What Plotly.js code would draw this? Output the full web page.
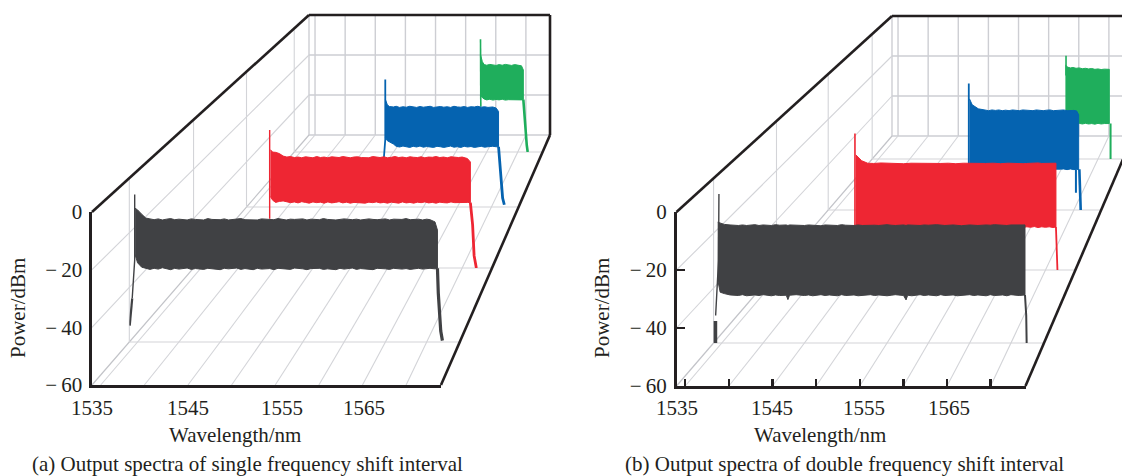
<!DOCTYPE html>
<html><head><meta charset="utf-8">
<script src="https://cdn.plot.ly/plotly-3.0.1.min.js"></script>
<style>html,body{margin:0;padding:0;background:#fff;overflow:hidden}</style>
</head><body><div id="chart" style="width:1122px;height:476px"></div>
<script>
// ---- values: wavelength (nm), power (dBm) ----
const powerTicks = [0,-20,-40,-60];
const powerLabels = ['0','\u2212\u200920','\u2212\u200940','\u2212\u200960'];
const wavelengthTicks = [1535,1540,1545,1550,1555,1560,1565,1570];
const wavelengthLabels = [1535,1545,1555,1565];

// (a) black
const aBlackWl   = [1534.7,1535,1535.5,1536,1536.5,1537,1537.5,1538,1538.5,1539,1539.5,1540,1541,1541.5,1542,1543,1543.5,1544,1545,1545.5,1546,1547,1547.5,1548,1549,1549.5,1550,1551,1551.5,1552,1553,1553.5,1554,1555,1555.5,1556,1557,1557.5,1558,1559,1559.5,1560,1561,1561.5,1562,1563,1563.5,1564,1565,1565.5,1566,1567,1567.5,1568,1569,1569.5,1570,1570.4,1571,1571.3];
const aBlackTop  = [-11,-11.6,-13.2,-14.6,-14.9,-15.2,-14.9,-15.3,-15,-14.8,-15.2,-15,-15.3,-14.9,-15.1,-15.3,-14.8,-15.1,-15.2,-14.9,-15.3,-15,-14.8,-15.2,-15.1,-15.3,-14.9,-15,-15.2,-14.8,-15.3,-15,-15.1,-14.9,-15.3,-15,-15.2,-14.8,-15.1,-15.3,-15,-14.9,-15.2,-15,-15.3,-14.9,-15.1,-15.2,-14.9,-15.3,-15,-15.1,-14.8,-15.2,-15,-15.3,-15,-15.2,-16,-19];
const aBlackLow  = [-28,-31,-32.6,-33,-33.4,-33,-33.3,-32.8,-33.2,-33.5,-33,-33.3,-32.9,-33.4,-33.1,-33.4,-33,-33.3,-33.5,-33,-33.2,-32.9,-33.4,-33.1,-33.5,-33,-33.3,-33.1,-33.5,-33,-33.3,-33.4,-32.9,-33.2,-33.5,-33.1,-33,-33.4,-33.2,-33.5,-33,-33.3,-32.9,-33.4,-33.1,-33.3,-33.5,-33,-33.2,-33.4,-33,-33.3,-33.1,-33.4,-33,-33.3,-33.2,-33,-33.2,-33];
const aBlackSpikeWl = [1534.65,1534.65,1534.35];
const aBlackSpikeP  = [-6,-30,-44];
const aBlackStubWl = [1534.35,1534.1,1534.05];
const aBlackStubP  = [-44,-53,-54];
const aBlackTailWl = [1571.3,1571.4,1571.7,1571.9];
const aBlackTailP  = [-33,-42,-56,-59.5];
// (a) red
const aRedWl   = [1544.3,1544.6,1545,1545.5,1546,1546.5,1547,1547.5,1548,1548.5,1549,1549.5,1550,1550.5,1551,1551.5,1552,1552.5,1553,1553.5,1554,1554.5,1555,1555.5,1556,1556.5,1557,1557.5,1558,1558.5,1559,1559.5,1560,1560.5,1561,1561.5,1562,1562.5,1563,1563.5,1564,1564.5,1565,1565.5,1566,1566.5,1567,1567.5,1568,1568.5,1569,1569.5,1570,1570.7,1571.1];
const aRedTop  = [-12,-13,-13.1,-13.6,-14.6,-15,-14.8,-15.2,-15,-15.3,-14.9,-15.1,-15.3,-14.8,-15.2,-15,-15.3,-14.9,-15,-15.2,-14.8,-15.1,-15.3,-15,-14.9,-15.2,-15.1,-15.3,-14.8,-15,-15.2,-14.9,-15.3,-15.1,-14.8,-15.2,-15,-15.3,-14.9,-15.1,-15.2,-14.9,-15.3,-15,-15.1,-14.8,-15.2,-15,-15.3,-14.9,-15.1,-15.2,-15,-15.6,-17];
const aRedLow  = [-31,-32.5,-33.4,-33,-32.8,-33.1,-33.5,-33.2,-33.6,-33.1,-33.4,-33.7,-33.2,-33.5,-33.3,-33.7,-33.2,-33.6,-33.4,-33.1,-33.6,-33.3,-33.7,-33.4,-33.2,-33.6,-33.7,-33.3,-33.5,-33.2,-33.6,-33.4,-33.7,-33.3,-33.5,-33.7,-33.2,-33.6,-33.4,-33.7,-33.3,-33.5,-33.2,-33.6,-33.4,-33.7,-33.3,-33.5,-33.6,-33.2,-33.5,-33.7,-33.4,-33.4,-33.5];
const aRedSpikeWl = [1544.2,1544.2];
const aRedSpikeP  = [-4,-40];
const aRedTailWl = [1571.1,1571.4,1571.6,1571.9];
const aRedTailP  = [-33.5,-42.5,-55,-60];
// (a) blue
const aBlueWl   = [1554.4,1554.7,1555,1555.6,1556,1556.5,1557,1557.5,1558,1558.5,1559,1559.5,1560,1560.5,1561,1561.5,1562,1562.5,1563,1563.5,1564,1564.5,1565,1565.5,1566,1566.5,1567,1567.5,1568,1568.5,1569,1569.5,1570.2,1570.7,1571.05];
const aBlueTop  = [-12,-14.5,-15.3,-15.5,-15.2,-15.7,-15.4,-15.6,-15.2,-15.5,-15.7,-15.3,-15.6,-15.4,-15.2,-15.7,-15.5,-15.3,-15.6,-15.4,-15.7,-15.2,-15.5,-15.6,-15.3,-15.7,-15.4,-15.5,-15.2,-15.6,-15.4,-15.7,-15.5,-16,-17.5];
const aBlueLow  = [-29,-30.5,-30.8,-32,-33,-33.3,-32.9,-33.2,-33.5,-33,-33.3,-32.9,-33.4,-33.1,-33.3,-33.5,-33,-33.2,-33.5,-33.1,-32.9,-33.4,-33.2,-33.5,-33,-33.3,-33.1,-33.5,-33.2,-33,-33.4,-33.2,-33,-33.2,-33.2];
const aBlueSpikeWl = [1554.4,1554.4,1554.2];
const aBlueSpikeP  = [-3.3,-30,-38];
const aBlueTailWl = [1571.05,1571.35,1571.65,1571.9];
const aBlueTailP  = [-33.2,-43.5,-56,-59];
// (a) green
const aGreenWl   = [1564,1564.3,1564.6,1565,1565.5,1566,1566.5,1567,1567.5,1568,1568.5,1569,1569.5,1570,1570.6,1570.9];
const aGreenTop  = [-12.5,-16,-17.4,-17.7,-17.3,-17.6,-17.8,-17.4,-17.7,-17.3,-17.6,-17.8,-17.4,-17.6,-18,-20];
const aGreenLow  = [-32.5,-33.5,-34.2,-34.6,-34.3,-34.7,-34.4,-34.6,-34.3,-34.7,-34.5,-34.3,-34.7,-34.5,-34.6,-34.5];
const aGreenSpikeWl = [1564,1564.05];
const aGreenSpikeP  = [-5,-38];
const aGreenTailWl = [1570.9,1571.1,1571.45,1571.6];
const aGreenTailP  = [-34.5,-44.3,-56.6,-60];

// (b) black
const bBlackWl   = [1534.5,1534.8,1535.3,1536,1537,1537.5,1538,1539,1539.5,1540,1541,1541.5,1542,1542.8,1543,1543.2,1544,1545,1545.5,1546,1547,1547.5,1548,1549,1549.5,1550,1551,1551.5,1552,1553,1553.5,1554,1555,1555.5,1556,1557,1557.3,1557.5,1558,1559,1559.5,1560,1561,1561.5,1562,1563,1563.5,1564,1565,1565.5,1566,1567,1567.5,1568,1569,1569.5,1570,1571,1571.7];
const bBlackTop  = [-16,-16.4,-16.8,-17,-17.2,-17,-17.2,-16.9,-17.2,-17,-17.2,-16.9,-17.1,-17,-17.2,-17,-17.1,-17.2,-17,-17.1,-17.3,-17,-17.1,-17.2,-16.9,-17.1,-17.2,-17,-17.2,-17,-17.1,-17.2,-16.9,-17.1,-17.2,-17,-17.2,-17,-17.1,-17.2,-17,-17.1,-16.9,-17.1,-17.2,-17,-17.1,-17.3,-17,-17.1,-17.2,-17,-17.1,-16.9,-17.1,-17.2,-17,-17.1,-17];
const bBlackLow  = [-37,-41.5,-42,-42.5,-42.7,-42.4,-42.8,-42.5,-42.7,-42.4,-42.8,-42.5,-42.7,-42.6,-44.2,-42.6,-42.4,-42.7,-42.5,-42.8,-42.4,-42.7,-42.5,-42.8,-42.4,-42.7,-42.5,-42.8,-42.6,-42.4,-42.7,-42.5,-42.8,-42.6,-42.4,-42.7,-44.3,-42.6,-42.8,-42.4,-42.7,-42.5,-42.8,-42.4,-42.7,-42.5,-42.8,-42.6,-42.4,-42.7,-42.5,-42.8,-42.4,-42.7,-42.5,-42.8,-42.4,-42.7,-42.5];
const bBlackSpikeWl = [1534.65,1534.6,1534.25];
const bBlackSpikeP  = [-5.7,-30,-50];
const bBlackStubWl = [1534.2,1534.2];
const bBlackStubP  = [-52,-60];
const bBlackTailWl = [1571.7,1571.85,1571.9];
const bBlackTailP  = [-42.5,-50,-60];
// (b) red
const bRedWl   = [1544.6,1545.4,1546.2,1547,1548,1549,1550,1551,1552,1553,1554,1555,1556,1557,1558,1559,1560,1561,1562,1563,1564,1565,1565.5,1566,1566.5,1567,1567.5,1568,1568.5,1569,1569.5,1570,1570.5,1571,1571.4];
const bRedTop  = [-13.6,-16,-17,-17.1,-16.9,-17.1,-17,-17.2,-17,-17.1,-16.9,-17,-17.1,-17,-17.2,-17,-17.1,-16.9,-17.1,-17,-17.2,-17,-17.1,-16.9,-17,-17.2,-17.1,-17,-17.2,-16.9,-17.1,-17,-17.2,-17,-17];
const bRedLow  = [-42,-42.5,-42.7,-42.7,-42.7,-42.7,-42.7,-42.7,-42.7,-42.7,-42.7,-42.7,-42.7,-42.7,-42.7,-42.7,-42.7,-42.7,-42.7,-42.7,-42.7,-42.8,-42.5,-42.8,-42.6,-42.9,-42.6,-42.8,-42.5,-42.9,-42.6,-42.8,-42.6,-42.9,-42.7];
const bRedSpikeWl = [1544.5,1544.5];
const bRedSpikeP  = [-5,-45];
const bRedTailWl = [1571.4,1571.5,1571.6];
const bRedTailP  = [-42.7,-50,-60];
// (b) blue
const bBlueWl   = [1554.7,1555.1,1556,1557,1557.5,1558,1558.5,1559,1559.5,1560,1560.5,1561,1561.5,1562,1562.5,1563,1563.5,1564,1564.5,1565,1565.5,1566,1566.5,1567,1567.5,1568,1568.5,1569,1569.5,1570,1570.4,1570.7];
const bBlueTop  = [-11,-13.6,-15.4,-16,-16.2,-15.9,-16.1,-15.9,-16.2,-16,-16.2,-15.9,-16.1,-16.2,-15.9,-16.1,-16,-16.2,-15.9,-16.1,-16.2,-16,-15.9,-16.2,-16,-16.1,-15.9,-16.2,-16,-16.1,-16.3,-18];
const bBlueLow  = [-42,-42,-42,-42,-42,-42,-42,-42,-42,-42,-42,-42,-42,-42,-42,-42,-42,-42,-42,-42,-42,-42,-42,-42,-42,-42,-41.9,-42.2,-41.9,-42.2,-42,-42.2];
const bBlueSpikeWl = [1554.6,1554.6];
const bBlueSpikeP  = [-4.2,-42];
const bBlueStubWl = [1570.3,1570.3];
const bBlueStubP  = [-42,-52.4];
const bBlueTailWl = [1570.8,1570.9,1571];
const bBlueTailP  = [-42,-50,-60];
// (b) green
const bGreenWl   = [1564.8,1565.2,1565.6,1566,1566.5,1567,1567.5,1568,1568.5,1569,1569.5,1570,1570.5,1571,1571.8];
const bGreenTop  = [-15,-16,-16.3,-16.1,-16.5,-16.3,-16.7,-16.5,-16.8,-16.6,-17,-16.8,-17.1,-16.9,-17];
const bGreenLow  = [-42.5,-42.8,-43.1,-42.8,-43.2,-42.9,-43.2,-42.9,-43.2,-43,-43.3,-42.9,-43.2,-43,-43];
const bGreenSpikeWl = [1564.9,1564.9];
const bGreenSpikeP  = [-10.5,-20];
const bGreenTailWl = [1572,1572];
const bGreenTailP  = [-43,-60];

// ---- layout and styling ----
const W = 1122, H = 476;
const FONT = '"Liberation Serif", "Times New Roman", serif';
const FS = 21;
const INK = '#231f20';
const GRID = '#d3d4d8';
const WMIN = 1534, WSPAN = 40, WSHOWN = 38.5;
const COL = {black:'#404144', red:'#ee2633', blue:'#0563b0', green:'#1fae5c'};

const panels = [
 {fx0:92, fx1:441, fTop:212, fBot:385, bx0:309, bw:241, bTop:15, bBot:135, floors:[342,268,207,152],
  hasTicks:false, labelShift:[-9,0,7,2], titleX:235, capX:247, yTitleX:18, labelY:408,
  caption:'(a) Output spectra of single frequency shift interval',
  series:[
   {c:COL.black,wl:aBlackWl,top:aBlackTop,low:aBlackLow,sw:aBlackSpikeWl,sp:aBlackSpikeP,tw:aBlackTailWl,tp:aBlackTailP,uw:aBlackStubWl,up:aBlackStubP,tl:3.2,sl:1.4,ul:2.2},
   {c:COL.red,wl:aRedWl,top:aRedTop,low:aRedLow,sw:aRedSpikeWl,sp:aRedSpikeP,tw:aRedTailWl,tp:aRedTailP,tl:2.8,sl:1.4},
   {c:COL.blue,wl:aBlueWl,top:aBlueTop,low:aBlueLow,sw:aBlueSpikeWl,sp:aBlueSpikeP,tw:aBlueTailWl,tp:aBlueTailP,tl:2.8,sl:1.8},
   {c:COL.green,wl:aGreenWl,top:aGreenTop,low:aGreenLow,sw:aGreenSpikeWl,sp:aGreenSpikeP,tw:aGreenTailWl,tp:aGreenTailP,tl:2.6,sl:1.6}
  ]},
 {fx0:676.5, fx1:1025.5, fTop:212, fBot:386, bx0:892, bw:241, bTop:16, bBot:136, floors:[343,270,210,159],
  hasTicks:true, labelShift:[-8,0,4,2], titleX:820, capX:844, yTitleX:602, labelY:408,
  caption:'(b) Output spectra of double frequency shift interval',
  series:[
   {c:COL.black,wl:bBlackWl,top:bBlackTop,low:bBlackLow,sw:bBlackSpikeWl,sp:bBlackSpikeP,tw:bBlackTailWl,tp:bBlackTailP,uw:bBlackStubWl,up:bBlackStubP,tl:2,sl:1.4,ul:4},
   {c:COL.red,wl:bRedWl,top:bRedTop,low:bRedLow,sw:bRedSpikeWl,sp:bRedSpikeP,tw:bRedTailWl,tp:bRedTailP,tl:1.8,sl:1.6},
   {c:COL.blue,wl:bBlueWl,top:bBlueTop,low:bBlueLow,sw:bBlueSpikeWl,sp:bBlueSpikeP,tw:bBlueTailWl,tp:bBlueTailP,uw:bBlueStubWl,up:bBlueStubP,tl:2.6,sl:1.8,ul:2},
   {c:COL.green,wl:bGreenWl,top:bGreenTop,low:bGreenLow,sw:bGreenSpikeWl,sp:bGreenSpikeP,tw:bGreenTailWl,tp:bGreenTailP,tl:2,sl:1.6}
  ]}
];

const layout = {width:W,height:H,autosize:false,margin:{l:0,r:0,t:0,b:0,pad:0},
  paper_bgcolor:'#fff',plot_bgcolor:'rgba(0,0,0,0)',showlegend:false,
  font:{family:FONT,color:INK,size:FS},shapes:[],annotations:[],hovermode:false};
const traces = [];
let axisN = 0;
const px = x => x/W, py = y => 1-y/H;
function seg(x0,y0,x1,y1,color,width){
  layout.shapes.push({type:'line',xref:'paper',yref:'paper',layer:'below',
    x0:px(x0),y0:py(y0),x1:px(x1),y1:py(y1),line:{color,width}});
}
function ann(o){layout.annotations.push(Object.assign({showarrow:false,xanchor:'center',yanchor:'middle',
  xref:'paper',yref:'paper',font:{family:FONT,size:FS,color:INK}},o));}
function newAxes(){axisN++;return axisN===1?['x','y','xaxis','yaxis']:['x'+axisN,'y'+axisN,'xaxis'+axisN,'yaxis'+axisN];}

panels.forEach(P=>{
  const fW = P.fx1-P.fx0, fH = P.fBot-P.fTop;
  const shrink = P.bw/fW;
  // a depth plane is fully described by where its floor line sits on screen
  const plane = fy=>{
    const t = (P.fBot-fy)/(P.fBot-P.bBot);
    const s = 1+(shrink-1)*t;
    return {left:P.fx0+(P.bx0-P.fx0)*t, width:fW*s, height:fH*s, floor:fy};
  };
  const backX = w=>P.bx0+(w-WMIN)/WSPAN*P.bw;
  const frontX = w=>P.fx0+(w-WMIN)/WSPAN*fW;
  const yBack = p=>P.bTop+(-p)/60*(P.bBot-P.bTop);
  const yFront = p=>P.fTop+(-p)/60*fH;

  // back wall
  [P.bx0].concat(wavelengthTicks.map(backX)).forEach(x=>seg(x,P.bTop,x,P.bBot,'#cdced3',1.4));
  powerTicks.forEach(p=>seg(P.bx0,yBack(p),P.bx0+P.bw,yBack(p),'#cdced3',1.4));
  // left wall
  powerTicks.slice(1,3).forEach(p=>seg(P.fx0,yFront(p),P.bx0,yBack(p),GRID,1.1));
  seg(P.fx0,P.fBot,P.bx0,P.bBot,'#c2c3c8',1.2);
  // floor
  wavelengthTicks.forEach(w=>seg(frontX(w),P.fBot,backX(w),P.bBot,GRID,1.1));
  P.floors.forEach(fy=>{const q=plane(fy);
    seg(q.left,fy,q.left+q.width,fy,GRID,1.1);
    seg(q.left,fy,q.left,fy-q.height,GRID,1.1);
  });
  // frame
  seg(P.fx0,P.fTop,P.bx0,P.bTop,INK,2.6);
  seg(P.bx0,P.bTop,P.bx0+P.bw,P.bTop,INK,2.6);
  seg(P.bx0+P.bw,P.bTop,P.bx0+P.bw,P.bBot,INK,2.6);
  seg(P.bx0+P.bw,P.bBot,P.fx1,P.fBot,INK,2.6);

  // spectra, farthest plane first so the nearer ones cover it
  for(let i=3;i>=0;i--){
    const q=plane(P.floors[i]), S=P.series[i];
    const [xr,yr,xk,yk]=newAxes();
    layout[xk]={domain:[px(q.left),px(q.left+q.width*WSHOWN/WSPAN)],range:[WMIN,WMIN+WSHOWN],visible:false,anchor:yr,fixedrange:true};
    layout[yk]={domain:[py(q.floor),py(q.floor-q.height)],range:[-60,0],visible:false,anchor:xr,fixedrange:true};
    const common={type:'scatter',mode:'lines',xaxis:xr,yaxis:yr,hoverinfo:'skip',showlegend:false};
    traces.push(Object.assign({},common,{x:S.sw,y:S.sp,line:{color:S.c,width:S.sl}}));
    traces.push(Object.assign({},common,{x:S.tw,y:S.tp,line:{color:S.c,width:S.tl}}));
    if(S.uw) traces.push(Object.assign({},common,{x:S.uw,y:S.up,line:{color:S.c,width:S.ul}}));
    traces.push(Object.assign({},common,{
      x:S.wl.concat(S.wl.slice().reverse()),
      y:S.top.concat(S.low.slice().reverse()),
      fill:'toself',fillcolor:S.c,line:{color:S.c,width:1}}));
  }

  // front plane: the real wavelength and power axes
  const [xr,yr,xk,yk]=newAxes();
  layout[xk]={domain:[px(P.fx0),px(P.fx1)],range:[WMIN,WMIN+WSPAN],anchor:yr,fixedrange:true,
    showgrid:false,zeroline:false,showline:true,linecolor:INK,linewidth:2.6,
    tickmode:'array',tickvals:wavelengthTicks,showticklabels:false,
    ticks:P.hasTicks?'inside':'',ticklen:7,tickwidth:2.4,tickcolor:INK};
  layout[yk]={domain:[py(P.fBot),py(P.fTop)],range:[-60,0],anchor:xr,fixedrange:true,
    showgrid:false,zeroline:false,showline:true,linecolor:INK,linewidth:2.6,
    tickmode:'array',tickvals:powerTicks,ticktext:powerLabels,
    ticks:P.hasTicks?'inside':'',ticklen:8,tickwidth:2.4,tickcolor:INK,
    tickfont:{family:FONT,size:FS,color:INK},ticklabelstandoff:3};
  traces.push({type:'scatter',mode:'lines',xaxis:xr,yaxis:yr,x:[WMIN],y:[-60],hoverinfo:'skip',showlegend:false,line:{color:'rgba(0,0,0,0)'}});
  wavelengthLabels.forEach((w,j)=>ann({xref:xr,x:w,xshift:P.labelShift[j],y:py(P.labelY),text:String(w)}));
  ann({x:px(P.titleX),y:py(435),text:'Wavelength/nm'});
  ann({x:px(P.yTitleX),y:py(308),text:'Power/dBm',textangle:-90});
  ann({x:px(P.capX),y:py(464),text:P.caption});
});

Plotly.newPlot('chart',traces,layout,{displayModeBar:false,staticPlot:true});
</script></body></html>
